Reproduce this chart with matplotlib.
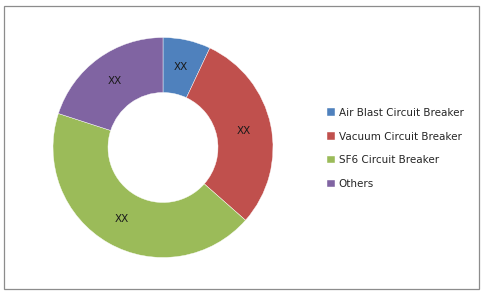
import numpy as np
import matplotlib.pyplot as plt
from matplotlib.patches import Rectangle

# Data
categories = ['Air Blast Circuit Breaker', 'Vacuum Circuit Breaker',
              'SF6 Circuit Breaker', 'Others']
shares = [7, 29.5, 43.5, 20]
labels = ['XX', 'XX', 'XX', 'XX']
colors = ['#4F81BD', '#C0504D', '#9BBB59', '#8064A2']

fig = plt.figure(figsize=(4.83, 2.95), dpi=100)

# outer frame
fig.patches.append(Rectangle((4 / 483, 6 / 295), 475 / 483, 283 / 295,
                             transform=fig.transFigure, fill=False,
                             edgecolor='#8c8c8c', linewidth=0.9))

ax = fig.add_axes([53 / 483, 37.5 / 295, 220 / 483, 220 / 295])
wedges, texts = ax.pie(shares, colors=colors, startangle=90, counterclock=False,
                       radius=1.0, labels=labels, labeldistance=0.75,
                       wedgeprops=dict(width=0.5, edgecolor='white', linewidth=0.3),
                       textprops=dict(fontsize=7.5, color='#1a1a1a',
                                      ha='center', va='center'))
ax.set_xlim(-1, 1)
ax.set_ylim(-1, 1)
ax.set_aspect('equal')

fig.legend(wedges, categories, loc='upper left',
           bbox_to_anchor=(322 / 483, 1 - 102.5 / 295), frameon=False,
           fontsize=7.5, handlelength=0.7, handleheight=0.7,
           handletextpad=0.4, labelspacing=1.33, borderpad=0,
           labelcolor='#262626')

fig.savefig('out.png', dpi=100)
